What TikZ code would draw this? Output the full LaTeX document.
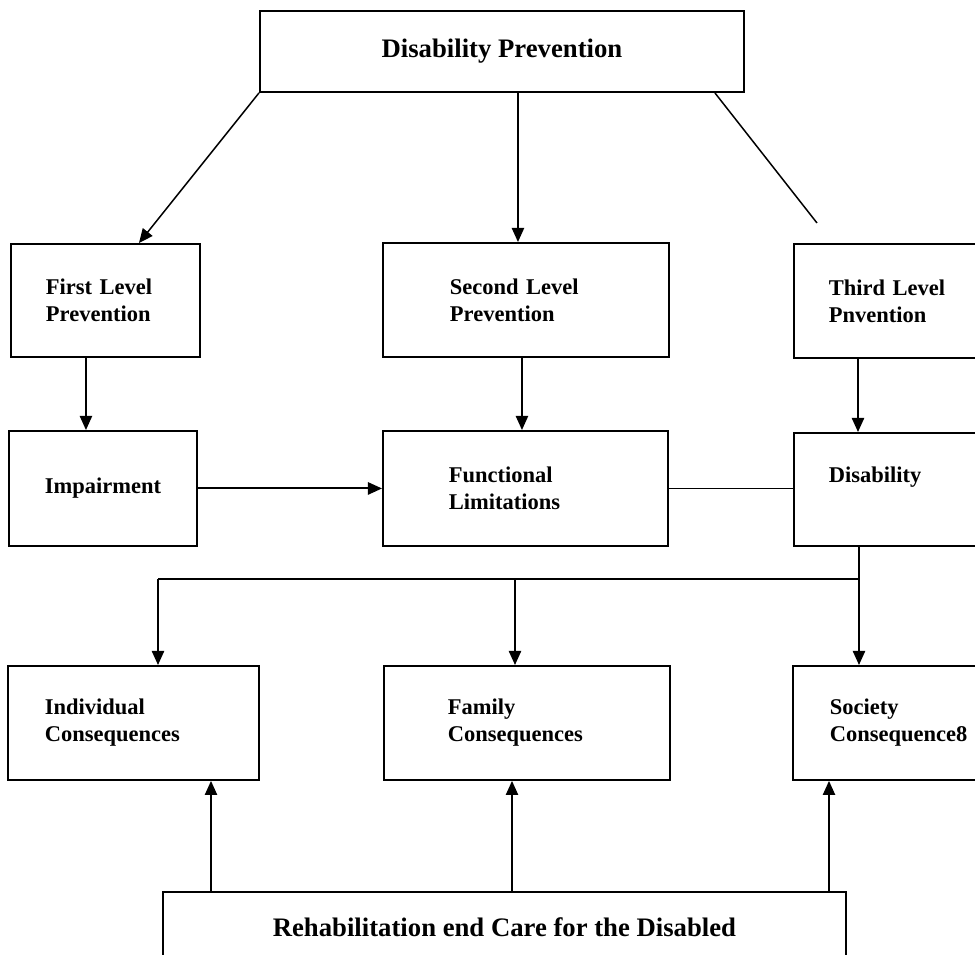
\documentclass[tikz,border=0pt]{standalone}
\usepackage{fontspec}
\setmainfont{Liberation Serif}
\usetikzlibrary{arrows.meta}

\tikzset{
  boxed/.style={draw, line width=1.1pt, anchor=north west, inner ysep=0pt,
    font=\bfseries\fontsize{12.8}{15.4}\selectfont},
  lboxed/.style={boxed, align=left},
  big/.style={font=\bfseries\fontsize{15.2}{18}\selectfont},
  link/.style={line width=0.85pt},
  arr/.style={link, -{Triangle[length=8pt,width=7pt]}}
}

\begin{document}
\begin{tikzpicture}
\useasboundingbox (0,0) rectangle (19.5,19.1);
\clip (0,0) rectangle (19.5,19.1);

% top of the chart
\node[boxed, big, align=center, minimum width=9.68cm, minimum height=1.62cm] (top) at (5.18,18.9) {Disability Prevention};

% the three levels
\node[lboxed, inner xsep=0.7cm, text width=2.38cm, minimum height=2.26cm] (first) at (0.2,14.24) {First Level\\Prevention};
\node[lboxed, inner xsep=1.34cm, text width=3.04cm, minimum height=2.28cm] (second) at (7.64,14.26) {Second Level\\Prevention};
\node[lboxed, inner xsep=0.7cm, text width=3.0cm, minimum height=2.28cm] (third) at (15.86,14.24) {Third Level\\Pnvention};

\node[boxed, align=center, minimum width=3.76cm, minimum height=2.3cm] (impair) at (0.16,10.5) {Impairment};
\node[lboxed, inner xsep=1.32cm, text width=3.06cm, minimum height=2.3cm] (func) at (7.64,10.5) {Functional\\Limitations};
\node[lboxed, inner xsep=0.7cm, text width=3.0cm, text depth=0.6cm, minimum height=2.26cm] (disab) at (15.86,10.46) {Disability};

% consequences
\node[lboxed, inner xsep=0.74cm, text width=3.54cm, minimum height=2.28cm] (indiv) at (0.14,5.8) {Individual\\Consequences};
\node[lboxed, inner xsep=1.28cm, text width=3.16cm, minimum height=2.28cm] (family) at (7.66,5.8) {Family\\Consequences};
\node[lboxed, inner xsep=0.74cm, text width=2.92cm, minimum height=2.28cm] (society) at (15.84,5.8) {Society\\Consequence8};

\node[boxed, big, align=center, minimum width=13.66cm, minimum height=1.4cm] (rehab) at (3.24,1.28) {Rehabilitation end Care for the Disabled};

% from the top box down
\draw[arr] (top.south west) -- ([xshift=0.67cm]first.north);
\draw[arr] ([xshift=0.32cm]top.south) -- ([xshift=0.32cm]top.south |- second.north);
\draw[link] ([xshift=-0.6cm]top.south east) -- ([xshift=0.48cm,yshift=0.4cm]third.north west);

\draw[arr] ([xshift=-0.39cm]first.south) -- ([xshift=-0.39cm]first.south |- impair.north);
\draw[arr] ([xshift=-0.08cm]second.south) -- ([xshift=-0.08cm]second.south |- func.north);
\draw[arr] ([xshift=1.3cm]third.south west) -- ([xshift=1.3cm]third.south west |- disab.north);

\draw[arr, line width=1.1pt] (impair) -- (func);
\draw[link] (func) -- (func -| disab.west);

% bus to the consequences
\coordinate (bus) at (17.18,7.52);
\draw[link] (disab.south -| bus) -- (bus);
\draw[line width=1.1pt] (bus) -- (bus -| 3.16,0);
\draw[arr] (bus) -- (society.north -| bus);
\foreach \x/\n in {3.16/indiv, 10.3/family}
  \draw[arr] (\x,7.52) -- (\n.north -| \x,0);

% rehabilitation feeds back up
\foreach \x/\n in {4.22/indiv, 10.24/family, 16.58/society}
  \draw[arr] (rehab.north -| \x,0) -- (\n.south -| \x,0);
\end{tikzpicture}
\end{document}
